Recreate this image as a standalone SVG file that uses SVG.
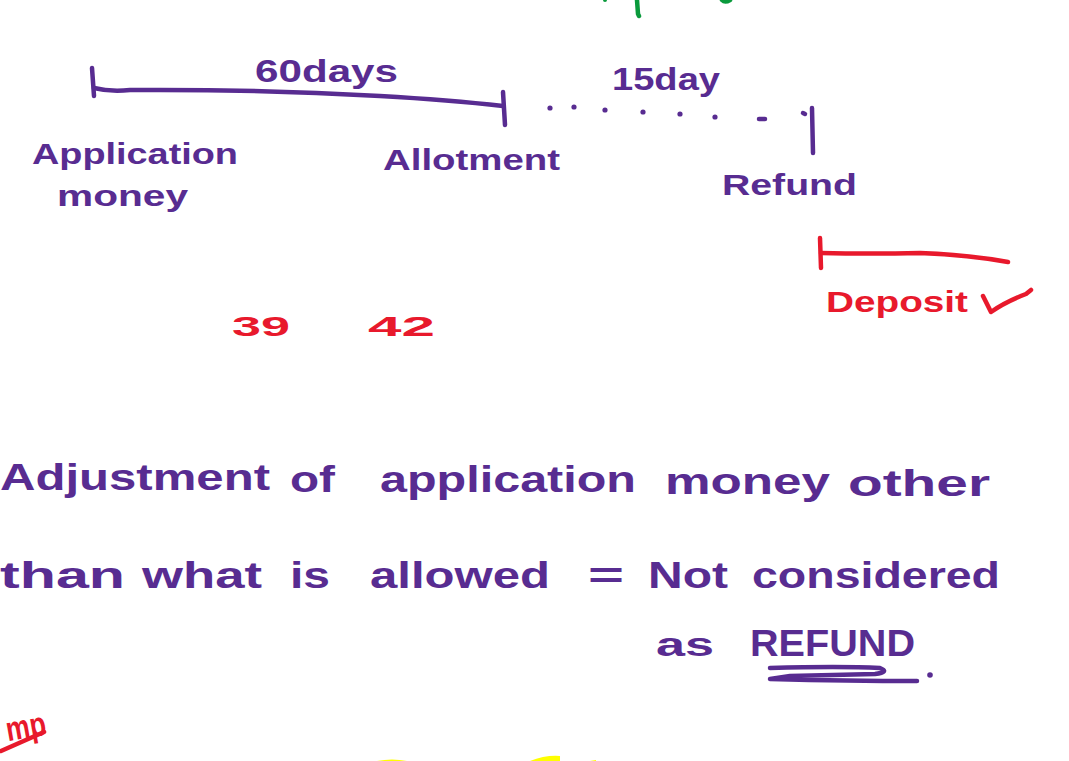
<svg xmlns="http://www.w3.org/2000/svg" width="1069" height="761" viewBox="0 0 1069 761">
<style>
.p{fill:#582c91;font-family:"Liberation Sans",Arial,sans-serif;font-weight:bold;}
.r{fill:#e8192c;font-family:"Liberation Sans",Arial,sans-serif;font-weight:bold;}
.ps{stroke:#582c91;fill:none;stroke-width:4.5;stroke-linecap:round;stroke-linejoin:round;}
.rs{stroke:#e8192c;fill:none;stroke-width:4.5;stroke-linecap:round;stroke-linejoin:round;}
.gs{stroke:#0a9a3c;fill:none;stroke-width:4.5;stroke-linecap:round;}
.ys{fill:#ffff00;}
</style>
<rect width="1069" height="761" fill="#ffffff"/>
<g id="top-marks">
<path class="gs" d="M637,0 L638,14 L639,16"/>
<circle cx="605" cy="0" r="2" fill="#0a9a3c"/>
<path class="gs" d="M722,0 Q725,3 730,0"/>
</g>
<g id="connectors">
<path class="ps" d="M92,68 L94,96"/>
<path class="ps" d="M94,88 Q110,92 130,90 Q250,89 380,96 Q450,100 503,106"/>
<path class="ps" d="M503,92 L505,125"/>
<g fill="#582c91">
<circle cx="550" cy="108" r="2.6"/><circle cx="574" cy="107" r="2.6"/><circle cx="605" cy="110" r="2.6"/><circle cx="643" cy="112" r="2.6"/><circle cx="680" cy="114" r="2.6"/><circle cx="715" cy="117" r="2.6"/>
</g>
<path class="ps" d="M759,119 L765,119"/>
<path class="ps" d="M803,113 L805,114"/>
<path class="ps" d="M812,108 L813,153"/>
<path class="rs" d="M820,238 L821,268"/>
<path class="rs" d="M821,253 Q870,254 920,253 Q970,255 1008,262"/>
</g>
<g id="n-60days"><text class="p" x="255" y="82" font-size="32" textLength="143" lengthAdjust="spacingAndGlyphs">60days</text></g>
<g id="n-15day"><text class="p" x="612" y="90" font-size="32" textLength="108" lengthAdjust="spacingAndGlyphs">15day</text></g>
<g id="n-application"><text class="p" x="32" y="164" font-size="30" textLength="206" lengthAdjust="spacingAndGlyphs">Application</text>
<text class="p" x="57" y="206" font-size="30" textLength="131" lengthAdjust="spacingAndGlyphs">money</text></g>
<g id="n-allotment"><text class="p" x="383" y="170" font-size="30" textLength="177" lengthAdjust="spacingAndGlyphs">Allotment</text></g>
<g id="n-refund"><text class="p" x="722" y="195" font-size="30" textLength="135" lengthAdjust="spacingAndGlyphs">Refund</text></g>
<g id="n-deposit"><text class="r" x="826" y="312" font-size="30" textLength="142" lengthAdjust="spacingAndGlyphs">Deposit</text>
<path class="rs" d="M983,296 L991,312 Q1005,302 1026,294 L1031,290"/></g>
<g id="n-numbers"><text class="r" x="232" y="336" font-size="28" textLength="58" lengthAdjust="spacingAndGlyphs">39</text>
<text class="r" x="368" y="336" font-size="28" textLength="67" lengthAdjust="spacingAndGlyphs">42</text></g>
<g id="n-line1"><text class="p" x="0" y="490" font-size="36" textLength="270" lengthAdjust="spacingAndGlyphs">Adjustment</text>
<text class="p" x="290" y="492" font-size="36" textLength="45" lengthAdjust="spacingAndGlyphs">of</text>
<text class="p" x="380" y="492" font-size="36" textLength="256" lengthAdjust="spacingAndGlyphs">application</text>
<text class="p" x="665" y="494" font-size="36" textLength="165" lengthAdjust="spacingAndGlyphs">money</text>
<text class="p" x="848" y="496" font-size="36" textLength="142" lengthAdjust="spacingAndGlyphs">other</text></g>
<g id="n-line2"><text class="p" x="0" y="588" font-size="36" textLength="125" lengthAdjust="spacingAndGlyphs">than</text>
<text class="p" x="142" y="588" font-size="36" textLength="120" lengthAdjust="spacingAndGlyphs">what</text>
<text class="p" x="290" y="588" font-size="36" textLength="40" lengthAdjust="spacingAndGlyphs">is</text>
<text class="p" x="370" y="588" font-size="36" textLength="180" lengthAdjust="spacingAndGlyphs">allowed</text>
<text class="p" x="588" y="588" font-size="36" textLength="36" lengthAdjust="spacingAndGlyphs">=</text>
<text class="p" x="648" y="588" font-size="36" textLength="80" lengthAdjust="spacingAndGlyphs">Not</text>
<text class="p" x="752" y="588" font-size="36" textLength="248" lengthAdjust="spacingAndGlyphs">considered</text></g>
<g id="n-line3"><text class="p" x="656" y="656" font-size="34" textLength="58" lengthAdjust="spacingAndGlyphs">as</text>
<text class="p" x="750" y="656" font-size="36" textLength="165" lengthAdjust="spacingAndGlyphs">REFUND</text>
<path class="ps" d="M770,668 Q840,666 880,668 Q890,672 875,674 L790,676 L770,679 Q850,681 917,681"/>
<circle cx="930" cy="675" r="2.8" fill="#582c91"/></g>
<g id="n-imp"><text class="r" x="6" y="738" font-size="34" textLength="40" lengthAdjust="spacingAndGlyphs" transform="rotate(-10 26 728)">mp</text>
<path class="rs" d="M1,751 L44,732"/></g>
<g id="bottom-marks">
<path class="ys" d="M377,761 Q392,758 407,761 Z"/>
<path class="ys" d="M530,761 Q545,755 560,756 L560,761 Z"/>
<path class="ys" d="M590,761 L596,760 L596,761 Z"/>
</g>
</svg>
